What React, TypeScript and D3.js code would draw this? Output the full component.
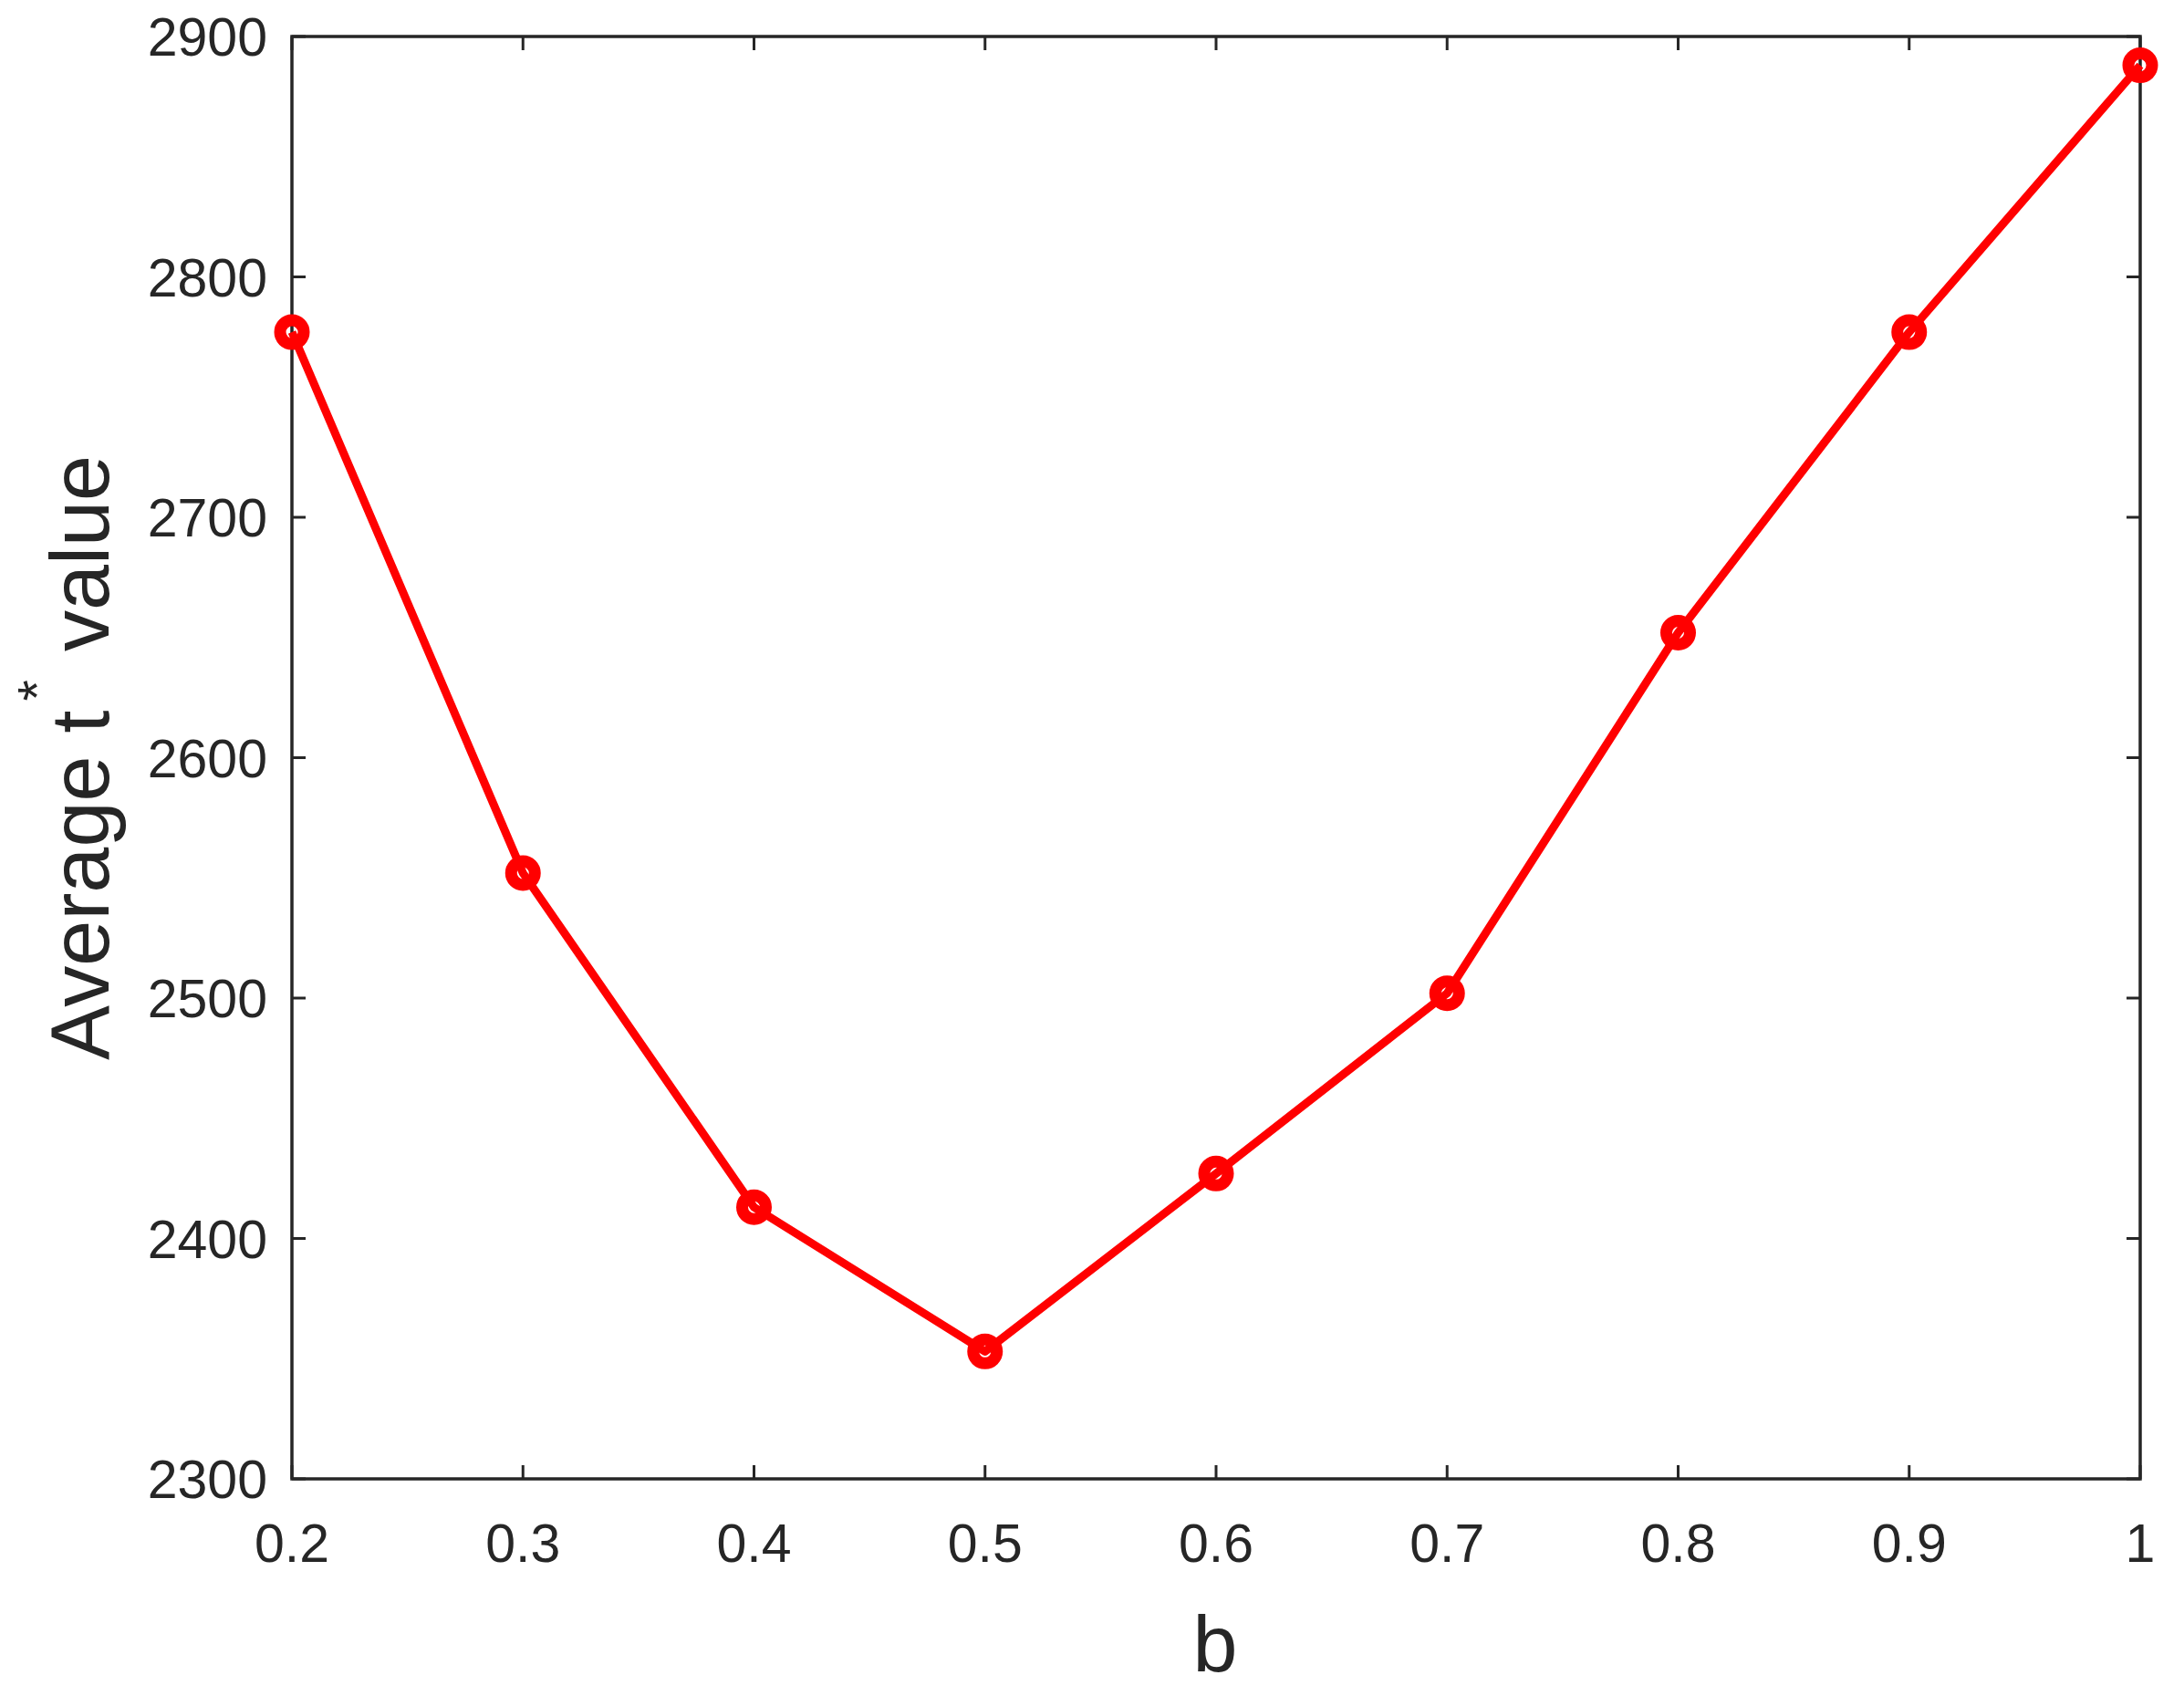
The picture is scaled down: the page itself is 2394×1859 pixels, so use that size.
import React from "react";
import * as d3 from "d3";

const bValues = [0.2, 0.3, 0.4, 0.5, 0.6, 0.7, 0.8, 0.9, 1.0];
const avgT = [2777, 2552, 2413, 2353, 2427, 2502, 2652, 2777, 2888];
const xTicks = [0.2, 0.3, 0.4, 0.5, 0.6, 0.7, 0.8, 0.9, 1.0];
const xTickLabels = ["0.2", "0.3", "0.4", "0.5", "0.6", "0.7", "0.8", "0.9", "1"];
const yTicks = [2300, 2400, 2500, 2600, 2700, 2800, 2900];

const W = 2394;
const H = 1859;
const M = { left: 320, right: 2346, top: 40, bottom: 1621 };
const AX = "#262626";
const FONT = "'Liberation Sans', Arial, Helvetica, sans-serif";

export default function App() {
  const x = d3.scaleLinear().domain([0.2, 1]).range([M.left, M.right]);
  const y = d3.scaleLinear().domain([2300, 2900]).range([M.bottom, M.top]);
  const line = d3
    .line<number>()
    .x((_, i) => x(bValues[i]))
    .y((d) => y(d));
  const tl = 15;
  return (
    <svg
      width={W}
      height={H}
      style={{ position: "absolute", left: 0, top: 0, background: "#fff" }}
      fontFamily={FONT}
    >
      <rect x={0} y={0} width={W} height={H} fill="#fff" />
      {xTicks.map((t, i) => (
        <g key={"xt" + i}>
          <line x1={x(t)} x2={x(t)} y1={M.bottom} y2={M.bottom - tl} stroke={AX} strokeWidth={3} />
          <line x1={x(t)} x2={x(t)} y1={M.top} y2={M.top + tl} stroke={AX} strokeWidth={3} />
          <text x={x(t)} y={1712} textAnchor="middle" fontSize={59} fill={AX}>
            {xTickLabels[i]}
          </text>
        </g>
      ))}
      {yTicks.map((t, i) => (
        <g key={"yt" + i}>
          <line x1={M.left} x2={M.left + tl} y1={y(t)} y2={y(t)} stroke={AX} strokeWidth={3} />
          <line x1={M.right} x2={M.right - tl} y1={y(t)} y2={y(t)} stroke={AX} strokeWidth={3} />
          <text x={293} y={y(t)} dy="0.36em" textAnchor="end" fontSize={59} fill={AX}>
            {t}
          </text>
        </g>
      ))}
      <rect
        x={M.left}
        y={M.top}
        width={M.right - M.left}
        height={M.bottom - M.top}
        fill="none"
        stroke={AX}
        strokeWidth={3.5}
      />
      <path d={line(avgT) || ""} fill="none" stroke="#ff0000" strokeWidth={9} strokeLinejoin="round" />
      {avgT.map((v, i) => (
        <circle key={"m" + i} cx={x(bValues[i])} cy={y(v)} r={13} fill="none" stroke="#ff0000" strokeWidth={13} />
      ))}
      <text x={1332} y={1832} textAnchor="middle" fontSize={88} fill={AX}>
        b
      </text>
      <text
        transform={`translate(119, ${(M.top + M.bottom) / 2}) rotate(-90)`}
        textAnchor="middle"
        fontSize={90}
        fill={AX}
      >
        <tspan>Average t</tspan>
        <tspan fontSize={60} dy={-58} dx={10}>*</tspan>
        <tspan dy={58} dx={6}>{"  value"}</tspan>
      </text>
    </svg>
  );
}
